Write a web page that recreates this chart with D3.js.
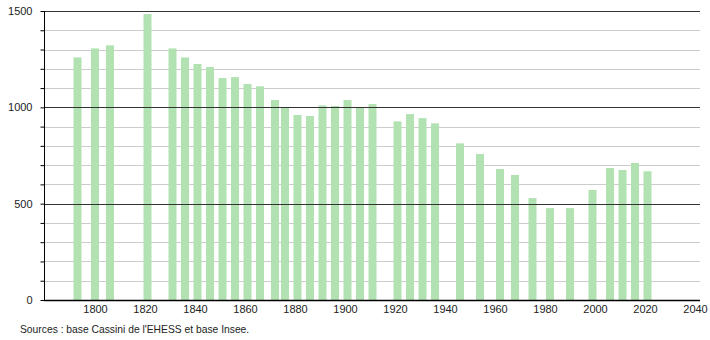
<!DOCTYPE html>
<html>
<head>
<meta charset="utf-8">
<script src="https://cdn.jsdelivr.net/npm/d3@7"></script>
<style>
  body { margin: 0; background: #fff; }
  svg text { font-family: "Liberation Sans", Arial, sans-serif; fill: #222; }
</style>
</head>
<body>
<svg id="chart" width="710" height="340"></svg>
<script>
// recensements (annees) et population
var annees = [1793, 1800, 1806, 1821, 1831, 1836, 1841, 1846, 1851, 1856,
              1861, 1866, 1872, 1876, 1881, 1886, 1891, 1896, 1901, 1906,
              1911, 1921, 1926, 1931, 1936, 1946, 1954, 1962, 1968, 1975,
              1982, 1990, 1999, 2006, 2011, 2016, 2021];
var population = [1259, 1306, 1322, 1484, 1306, 1259, 1225, 1209, 1152, 1157,
                  1121, 1109, 1038, 998, 960, 955, 1010, 1007, 1038, 998,
                  1017, 927, 965, 944, 917, 813, 758, 680, 649, 529,
                  477, 477, 571, 685, 675, 711, 668];
var ticksX = [1800, 1820, 1840, 1860, 1880, 1900, 1920, 1940, 1960, 1980, 2000, 2020, 2040];
var ticksY = [0, 500, 1000, 1500];
var source = "Sources : base Cassini de l'EHESS et base Insee.";

var svg = d3.select("#chart");
var mLeft = 44, mRight = 700, mTop = 11, mBottom = 300;

var x = d3.scaleLinear().domain([1779.6, 2042]).range([mLeft, mRight]);
var y = d3.scaleLinear().domain([0, 1500]).range([mBottom, mTop]);

// grille secondaire tous les 100
svg.append("g").selectAll("line")
    .data(d3.range(100, 1500, 100).filter(function(v) { return v % 500 != 0; }))
  .enter().append("line")
    .attr("x1", mLeft).attr("x2", mRight)
    .attr("y1", function(d) { return Math.round(y(d)) + 0.5; })
    .attr("y2", function(d) { return Math.round(y(d)) + 0.5; })
    .attr("stroke", "#cccccc").attr("stroke-width", 1);

// barres
svg.append("g").selectAll("rect")
    .data(annees)
  .enter().append("rect")
    .attr("x", function(d) { return x(d) - 4; })
    .attr("width", 8)
    .attr("y", function(d, i) { return y(population[i]); })
    .attr("height", function(d, i) { return mBottom - y(population[i]); })
    .attr("fill", "#b2e2b2");

// grille principale
svg.append("g").selectAll("line")
    .data([500, 1000, 1500])
  .enter().append("line")
    .attr("x1", mLeft).attr("x2", mRight)
    .attr("y1", function(d) { return Math.round(y(d)) + 0.5; })
    .attr("y2", function(d) { return Math.round(y(d)) + 0.5; })
    .attr("stroke", "#333").attr("stroke-width", 1);

// axe Y
var axeY = svg.append("g").attr("transform", "translate(" + (mLeft + 0.5) + ",0)")
    .call(d3.axisLeft(y).tickValues(d3.range(0, 1600, 100)).tickSize(4).tickFormat(function(d) {
        return ticksY.indexOf(d) >= 0 ? d : "";
    }));
axeY.select(".domain").attr("stroke", "#000").attr("d", "M0," + mTop + "V" + mBottom);
axeY.selectAll(".tick line").attr("stroke", "#000");
axeY.selectAll(".tick text").attr("x", -12).attr("font-size", 11)
    .attr("font-family", "Liberation Sans, Arial, sans-serif").attr("fill", "#222");

// axe X
var axeX = svg.append("g").attr("transform", "translate(0," + (mBottom + 0.5) + ")")
    .call(d3.axisBottom(x).tickValues(ticksX).tickSize(0).tickFormat(d3.format("d")));
axeX.select(".domain").attr("stroke", "#000").attr("stroke-width", 1.5).attr("d", "M" + mLeft + ",0H" + mRight);
axeX.selectAll(".tick text").attr("y", 5).attr("font-size", 11)
    .attr("font-family", "Liberation Sans, Arial, sans-serif").attr("fill", "#222");

svg.append("text")
    .attr("x", 20).attr("y", 333)
    .attr("font-size", 10.3)
    .text(source);
</script>
</body>
</html>
